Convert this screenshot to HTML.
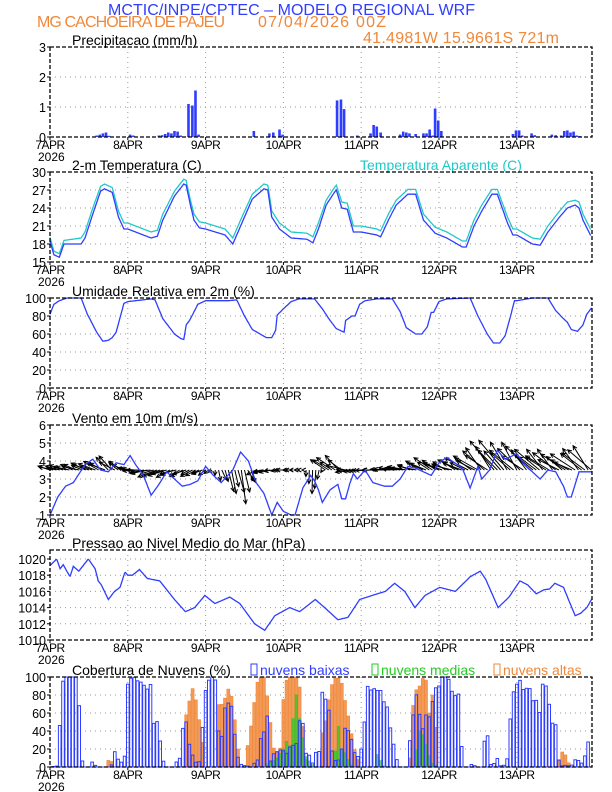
<!DOCTYPE html>
<html><head><meta charset="utf-8">
<style>
html,body{margin:0;padding:0;background:#fff;}
svg{display:block;}
text{font-family:"Liberation Sans",sans-serif;}
</style></head>
<body>
<svg id="s" width="612" height="792" xmlns="http://www.w3.org/2000/svg"></svg>
<script>
const S=document.getElementById('s');
const L=50,DW=77.8,R=592;
const BLUE='#2f3dff',OR='#f0883a',CY='#20c8c8',GR='#22cc22';
let h='';
function X(d){return L+d*DW;}
function interp(keys,d){
  if(d<=keys[0][0])return keys[0][1];
  for(let i=1;i<keys.length;i++){if(d<=keys[i][0]){const a=keys[i-1],b=keys[i];return a[1]+(b[1]-a[1])*(d-a[0])/(b[0]-a[0]);}}
  return keys[keys.length-1][1];
}
function panel(top,bot,vmin,vmax,ticks,title,titleX){
  for(const t of ticks){const y=bot-(t-vmin)/(vmax-vmin)*(bot-top);
    if(y>top+1&&y<bot-1)h+=`<line x1="${L}" x2="${R}" y1="${y}" y2="${y}" stroke="#999" stroke-width="1" stroke-dasharray="1,4"/>`;
    h+=`<line x1="${L-3}" x2="${L}" y1="${y}" y2="${y}" stroke="#000"/>`;
    h+=`<text x="${L-4}" y="${y+5}" font-size="12.5" text-anchor="end">${t}</text>`;}
  const days=['7APR','8APR','9APR','10APR','11APR','12APR','13APR'];
  for(let i=0;i<7;i++){const x=X(i);
    if(i>0)h+=`<line x1="${x}" x2="${x}" y1="${top}" y2="${bot}" stroke="#999" stroke-dasharray="1,4"/>`;
    h+=`<line x1="${x}" x2="${x}" y1="${bot}" y2="${bot+3}" stroke="#000"/>`;
    h+=`<text x="${x}" y="${bot+12}" font-size="12" text-anchor="middle" letter-spacing="-0.5">${days[i]}</text>`;}
  h+=`<text x="38" y="${bot+24}" font-size="12">2026</text>`;
  h+=`<text x="${titleX||72}" y="${top-2}" font-size="14">${title}</text>`;
}
function frame(top,bot){h+=`<rect x="${L}" y="${top}" width="${R-L}" height="${bot-top}" fill="none" stroke="#000" stroke-width="1.3" stroke-dasharray="4,2"/>`;}
function line(keys,top,bot,vmin,vmax,col,step){
  let p=[];for(let d=keys[0][0];d<=keys[keys.length-1][0]+1e-9;d+=step||0.01){let v=interp(keys,d);v=Math.max(vmin,Math.min(vmax,v));p.push(X(d).toFixed(1)+','+(bot-(v-vmin)/(vmax-vmin)*(bot-top)).toFixed(1));}
  h+=`<polyline points="${p.join(' ')}" fill="none" stroke="${col}" stroke-width="1.3"/>`;
}
h+=`<text x="108" y="15" font-size="16" fill="${BLUE}" textLength="367">MCTIC/INPE/CPTEC – MODELO REGIONAL WRF</text>`;
h+=`<text x="37" y="27" font-size="16" fill="${OR}" textLength="188">MG CACHOEIRA DE PAJEU</text>`;
h+=`<text x="258" y="27" font-size="16" fill="${OR}" textLength="128">07/04/2026 00Z</text>`;
h+=`<text x="363" y="43" font-size="16" fill="${OR}" textLength="196">41.4981W 15.9661S 721m</text>`;

{const top=47,bot=137;panel(top,bot,0,3,[0,1,2,3],'Precipitacao (mm/h)');
const bars=[[.6,.05],[.64,.08],[.68,.12],[.72,.15],[.76,.04],[1.03,.08],[1.07,.05],[1.4,.05],[1.44,.06],[1.48,.1],[1.52,.15],[1.56,.12],[1.6,.2],[1.64,.18],[1.68,.05],[1.78,1.1],[1.83,1.05],[1.87,1.55],[1.91,.08],[2.62,.2],[2.82,.12],[2.87,.15],[2.95,.25],[2.99,.08],[3.69,1.22],[3.74,1.25],[3.78,.93],[3.95,.05],[4.12,.12],[4.16,.4],[4.2,.35],[4.25,.15],[4.5,.08],[4.54,.18],[4.58,.15],[4.62,.12],[4.7,.1],[4.8,.12],[4.84,.12],[4.88,.25],[4.92,.05],[4.95,.95],[4.99,.55],[5.03,.2],[5.95,.1],[5.99,.22],[6.03,.22],[6.07,.05],[6.19,.12],[6.23,.06],[6.45,.03],[6.45,.08],[6.5,.06],[6.57,.05],[6.61,.2],[6.65,.22],[6.69,.15],[6.73,.18],[6.77,.05],[6.81,.03]];
for(const [d,v] of bars){const y=bot-v/3*(bot-top);h+=`<rect x="${X(d)-1.3}" y="${y}" width="2.6" height="${bot-y}" fill="${BLUE}"/>`;}
frame(top,bot);}

{const top=172,bot=262;panel(top,bot,15,30,[15,18,21,24,27,30],'2-m Temperatura (C)');
h+=`<text x="360" y="170" font-size="14" fill="${CY}">Temperatura Aparente (C)</text>`;
const T=[[0,18.5],[.05,16.2],[.12,15.8],[.18,18],[.4,18],[.45,19],[.55,23],[.65,26.8],[.7,27.2],[.8,26.6],[.88,22.5],[.95,20.5],[1.0,20.5],[1.3,19],[1.38,19.3],[1.45,22],[1.6,26],[1.72,28],[1.75,27.8],[1.8,24.8],[1.85,22],[1.92,20.7],[2.0,20.5],[2.25,19.5],[2.35,18],[2.45,21],[2.6,25.5],[2.75,27.2],[2.8,27],[2.85,22.5],[2.95,20.5],[3.1,19],[3.3,18.8],[3.38,18.2],[3.45,20.5],[3.55,24.5],[3.65,26.5],[3.68,27],[3.75,24],[3.82,23.8],[3.9,20],[4.0,20],[4.2,19.5],[4.25,19.2],[4.35,22],[4.45,24.5],[4.6,26.3],[4.7,26.3],[4.8,22],[4.95,19.8],[5.1,19],[5.3,17.5],[5.35,17.5],[5.45,21],[5.55,23.5],[5.68,26.3],[5.75,26.3],[5.88,21.5],[5.95,19.5],[6.0,19.5],[6.2,18],[6.3,17.8],[6.4,20],[6.55,22.5],[6.65,24],[6.75,24.5],[6.8,24],[6.85,22],[6.95,19.4]];
const A=T.map(([d,v])=>[d,v+(d<0.4?0.6:(v>24?0.8:1.0))]);
line(A,top,bot,15,30,CY);line(T,top,bot,15,30,BLUE);frame(top,bot);}

{const top=298,bot=388;panel(top,bot,0,100,[0,20,40,60,80,100],'Umidade Relativa em 2m (%)');
const H=[[0,82],[.05,93],[.12,97],[.22,100],[.4,100],[.48,82],[.6,62],[.68,52],[.75,53],[.8,56],[.85,62],[.95,94],[1.0,96],[1.3,99],[1.35,98],[1.45,77],[1.6,60],[1.68,55],[1.72,54],[1.75,70],[1.8,76],[1.9,93],[2.0,97],[2.3,97],[2.4,98],[2.5,80],[2.6,65],[2.7,60],[2.78,56],[2.85,56],[2.9,64],[2.92,81],[3.0,88],[3.1,96],[3.2,99],[3.4,99],[3.5,88],[3.6,75],[3.68,66],[3.78,62],[3.8,75],[3.88,80],[3.92,80],[3.98,93],[4.05,97],[4.2,99],[4.4,99],[4.5,85],[4.58,67],[4.7,60],[4.78,60],[4.85,68],[4.9,84],[4.93,84],[5.0,96],[5.1,99],[5.4,100],[5.5,80],[5.62,60],[5.7,50],[5.78,50],[5.85,58],[5.92,80],[5.97,97],[6.0,97],[6.2,100],[6.4,100],[6.5,86],[6.6,77],[6.65,73],[6.7,65],[6.78,63],[6.85,70],[6.9,82],[6.96,89]];
line(H,top,bot,0,100,BLUE);frame(top,bot);}

{const top=425,bot=515;panel(top,bot,1,6,[1,2,3,4,5,6],'Vento em 10m (m/s)');
const DX=[[0,-12],[.7,-15],[1.0,-10],[1.3,-18],[2.0,-8],[2.2,4],[2.6,6],[2.65,-10],[3.0,-6],[3.3,0],[3.5,-2],[3.55,-15],[3.8,-15],[4.7,-15],[5.0,-15],[5.5,-20],[6.9,-20]];
const DY=[[0,-3],[.6,-6],[.8,-12],[1.0,-3],[1.2,2],[1.4,6],[1.9,5],[2.1,3],[2.25,15],[2.45,27],[2.6,10],[2.7,3],[3.0,0],[3.25,0],[3.35,20],[3.45,15],[3.55,-10],[3.75,-12],[3.85,2],[4.4,-1],[4.7,-5],[4.9,-10],[5.1,-6],[5.4,-10],[5.6,-20],[5.8,-25],[6.2,-18],[6.5,-16],[6.7,-10],[6.85,-22],[6.95,-18]];
let i=0;for(let d=0;d<=6.96;d+=1/24,i++){const x=X(d),y=470;
  const j=Math.sin(i*2.3)*0.25+1;let dx=interp(DX,d)*j,dy=interp(DY,d)*(1+Math.cos(i*1.7)*0.3);
  const x2=x+dx,y2=y+dy,len=Math.hypot(dx,dy)||1,ux=dx/len,uy=dy/len;
  const hx1=x2-ux*4-uy*2,hy1=y2-uy*4+ux*2,hx2=x2-ux*4+uy*2,hy2=y2-uy*4-ux*2;
  h+=`<path d="M${x.toFixed(1)},${y}L${x2.toFixed(1)},${y2.toFixed(1)}M${hx1.toFixed(1)},${hy1.toFixed(1)}L${x2.toFixed(1)},${y2.toFixed(1)}L${hx2.toFixed(1)},${hy2.toFixed(1)}" stroke="#000" stroke-width="1" fill="none"/>`;}
const W=[[0,1],[.1,2],[.2,2.6],[.3,2.8],[.45,3.8],[.55,4.1],[.65,3.5],[.75,3.4],[.85,3.9],[.95,3.8],[1.03,4.3],[1.1,3.8],[1.2,3.2],[1.3,2.1],[1.4,2.7],[1.5,3.4],[1.6,3],[1.7,2.6],[1.8,2.7],[1.9,2.9],[2.0,3.7],[2.1,3.2],[2.2,2.8],[2.35,3.5],[2.45,4.5],[2.55,4],[2.65,2.8],[2.75,2.2],[2.85,1.0],[2.92,1.7],[3.0,1.2],[3.1,1.0],[3.15,1.0],[3.25,2.5],[3.35,3.2],[3.4,2.9],[3.45,2.4],[3.5,1.7],[3.6,2.4],[3.7,2.7],[3.75,1.9],[3.8,1.9],[3.85,2.7],[3.9,3.3],[3.95,3.0],[4.05,3.5],[4.15,2.8],[4.3,2.6],[4.4,2.6],[4.5,3.0],[4.6,3.7],[4.7,3.6],[4.8,3.4],[4.9,3.2],[5.0,3.9],[5.1,4.2],[5.2,3.9],[5.3,3.6],[5.4,2.5],[5.5,3.7],[5.55,3.0],[5.65,3.5],[5.75,4.6],[5.85,4.1],[5.95,4.3],[6.0,4.4],[6.1,3.8],[6.2,3.4],[6.3,3.0],[6.4,3.5],[6.5,3.4],[6.6,2.6],[6.65,2.0],[6.7,2.0],[6.8,3.4],[6.96,3.4]];
line(W,top,bot,1,6,BLUE);frame(top,bot);}

{const top=550,bot=640;const vmax=1010+(bot-top)/8.1;
const ticks=[1010,1012,1014,1016,1018,1020];
panel(top,bot,1010,vmax,ticks,'Pressao ao Nivel Medio do Mar (hPa)');
const P=[[0,1019.2],[.086,1020],[.13,1018.8],[.17,1019.3],[.257,1017.8],[.3,1019.1],[.37,1018.5],[.493,1020],[.58,1018.8],[.62,1017.3],[.66,1016.8],[.75,1015],[.83,1016],[.9,1016.5],[.964,1018.4],[1.0,1018],[1.06,1018],[1.15,1018.7],[1.25,1017.6],[1.41,1017.3],[1.6,1015],[1.74,1013.5],[1.86,1014],[1.99,1015.5],[2.12,1014.5],[2.31,1015.3],[2.44,1014.5],[2.63,1012],[2.76,1011.2],[2.89,1013],[3.08,1014],[3.21,1013.5],[3.41,1015],[3.53,1014],[3.7,1012.5],[3.83,1012.8],[3.98,1015],[4.14,1015.5],[4.31,1016],[4.43,1017],[4.56,1016],[4.69,1014],[4.82,1015.5],[5.01,1016.5],[5.21,1016],[5.4,1017.8],[5.53,1018.5],[5.6,1017.5],[5.76,1014],[5.9,1015.3],[6.04,1017.3],[6.14,1016.8],[6.25,1015.7],[6.35,1016.2],[6.42,1016.3],[6.49,1017],[6.6,1016.5],[6.75,1013],[6.82,1013.3],[6.9,1014],[6.96,1015]];
line(P,top,bot,1010,vmax,BLUE);frame(top,bot);}

{const top=677,bot=767;panel(top,bot,0,100,[0,20,40,60,80,100],'Cobertura de Nuvens (%)');
h+=`<rect x="251" y="664" width="6" height="11" fill="none" stroke="${BLUE}" stroke-width="1"/><text x="260" y="675" font-size="14" fill="${BLUE}">nuvens baixas</text>`;
h+=`<rect x="372" y="664" width="6" height="11" fill="none" stroke="${GR}" stroke-width="1"/><text x="381" y="675" font-size="14" fill="${GR}">nuvens medias</text>`;
h+=`<rect x="494" y="664" width="6" height="11" fill="none" stroke="${OR}" stroke-width="1"/><text x="503" y="675" font-size="14" fill="${OR}">nuvens altas</text>`;
const LOW=[[0,0],[.08,1],[.1,1],[.12,37],[.15,92],[.18,98],[.2,100],[.36,100],[.4,15],[.43,0],[.5,0],[.53,7],[.56,3],[.6,1],[.63,0],[.78,0],[.8,4],[.83,18],[.86,9],[.9,8],[.95,0],[.98,43],[1.0,92],[1.05,100],[1.08,100],[1.12,96],[1.15,95],[1.2,93],[1.23,85],[1.27,88],[1.3,93],[1.33,48],[1.37,53],[1.43,22],[1.47,0],[1.6,0],[1.62,5],[1.67,10],[1.7,36],[1.73,61],[1.77,39],[1.8,20],[1.83,14],[1.87,5],[1.9,7],[1.93,5],[1.97,60],[2.0,85],[2.03,95],[2.07,100],[2.1,100],[2.13,96],[2.17,35],[2.2,22],[2.23,65],[2.27,66],[2.3,73],[2.33,70],[2.37,40],[2.4,18],[2.43,5],[2.47,2],[2.6,0],[2.63,5],[2.67,8],[2.7,36],[2.73,20],[2.77,58],[2.8,56],[2.83,6],[2.87,14],[2.9,18],[2.93,16],[2.97,20],[3.0,18],[3.03,10],[3.07,28],[3.1,15],[3.13,26],[3.17,26],[3.2,50],[3.23,55],[3.27,42],[3.3,5],[3.33,14],[3.37,3],[3.43,20],[3.47,16],[3.5,83],[3.53,80],[3.57,64],[3.6,62],[3.63,9],[3.67,7],[3.7,7],[3.73,10],[3.77,30],[3.8,48],[3.83,41],[3.87,33],[3.9,19],[3.95,10],[4.0,20],[4.05,56],[4.08,90],[4.12,85],[4.15,88],[4.2,85],[4.25,85],[4.3,70],[4.35,65],[4.4,22],[4.43,28],[4.47,0],[4.6,0],[4.63,35],[4.67,60],[4.7,88],[4.73,60],[4.77,57],[4.8,37],[4.83,58],[4.87,55],[4.9,60],[4.93,83],[4.97,90],[5.0,90],[5.03,100],[5.1,100],[5.13,97],[5.17,83],[5.2,79],[5.23,80],[5.27,82],[5.3,0],[5.4,0],[5.43,5],[5.47,0],[5.55,0],[5.6,43],[5.63,33],[5.67,0],[5.7,0],[5.73,14],[5.77,5],[5.8,0],[5.87,4],[5.9,35],[5.93,68],[5.97,90],[6.0,92],[6.03,100],[6.07,87],[6.1,85],[6.13,88],[6.17,87],[6.2,72],[6.23,78],[6.27,70],[6.3,57],[6.33,92],[6.37,92],[6.4,80],[6.45,49],[6.5,47],[6.55,0],[6.6,2],[6.7,1],[6.75,8],[6.8,7],[6.85,3],[6.92,29]];
const HIGH=[[0,0],[.74,0],[.77,22],[.8,0],[1.72,0],[1.75,58],[1.78,78],[1.8,70],[1.83,88],[1.87,77],[1.9,62],[1.93,45],[1.97,20],[2.0,0],[2.14,0],[2.17,78],[2.23,65],[2.27,88],[2.3,86],[2.35,75],[2.4,30],[2.45,0],[2.5,0],[2.53,18],[2.57,38],[2.6,55],[2.63,75],[2.67,96],[2.7,100],[2.75,100],[2.8,75],[2.83,52],[2.87,22],[2.9,16],[2.97,22],[3.0,75],[3.03,95],[3.07,100],[3.2,100],[3.23,60],[3.27,30],[3.3,0],[3.47,0],[3.5,38],[3.55,54],[3.6,85],[3.65,98],[3.7,100],[3.75,93],[3.8,70],[3.85,50],[3.9,24],[3.95,10],[4.0,0],[4.62,0],[4.65,60],[4.7,85],[4.75,90],[4.8,100],[4.83,100],[4.87,58],[4.9,70],[4.93,88],[4.97,26],[5.0,0],[6.52,0],[6.55,10],[6.6,20],[6.65,7],[6.7,0],[7,0]];
const MID=[[0,0],[2.77,0],[2.8,5],[2.9,8],[3.0,20],[3.03,30],[3.07,25],[3.1,22],[3.13,60],[3.17,82],[3.2,55],[3.23,50],[3.27,15],[3.3,10],[3.35,5],[3.4,0],[3.64,0],[3.67,20],[3.7,50],[3.75,20],[3.8,15],[3.85,5],[3.9,0],[4.17,0],[4.2,15],[4.25,7],[4.3,0],[4.67,0],[4.7,15],[4.75,40],[4.8,35],[4.85,20],[4.9,5],[5.0,0],[7,0]];
const yv=v=>bot-v/100*(bot-top);
for(let k=0;k<=166;k++){const d=k/24,x=X(d);const v=interp(HIGH,d);if(v>0.5)h+=`<rect x="${(x-1.5).toFixed(1)}" y="${yv(v).toFixed(1)}" width="3" height="${(bot-yv(v)).toFixed(1)}" fill="${OR}" stroke="${OR}" stroke-width="0.6" fill-opacity="0.85"/>`;}
for(let k=0;k<=166;k++){const d=k/24,x=X(d);const v=interp(MID,d);if(v>0.5)h+=`<rect x="${(x-1.3).toFixed(1)}" y="${yv(v).toFixed(1)}" width="2.6" height="${(bot-yv(v)).toFixed(1)}" fill="${GR}" fill-opacity="0.7" stroke="${GR}" stroke-width="0.6"/>`;}
for(let k=0;k<=166;k++){const d=k/24,x=X(d);const v=interp(LOW,d);if(v>0.5)h+=`<rect x="${(x-1.3).toFixed(1)}" y="${yv(v).toFixed(1)}" width="2.6" height="${(bot-yv(v)).toFixed(1)}" fill="none" stroke="${BLUE}" stroke-width="1"/>`;}
h+=`<line x1="${L}" x2="${R}" y1="${bot}" y2="${bot}" stroke="${BLUE}" stroke-width="1"/>`;
frame(top,bot);}
S.innerHTML=h;
</script>
</body></html>
